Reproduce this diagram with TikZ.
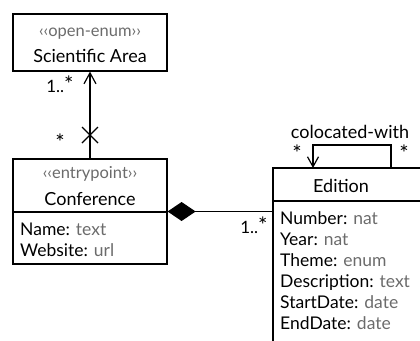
\documentclass[tikz,border=0pt]{standalone}
\usepackage{fontspec}
\setmainfont{Lato}
\usetikzlibrary{arrows.meta,calc}
\definecolor{typegray}{gray}{0.42}
\newcommand{\bigast}{\scalebox{1.3}{*}}
\begin{document}
\begin{tikzpicture}[x=1pt,y=-1pt,
  box/.style={draw,line width=1.2pt,rectangle,inner sep=0pt},
  conn/.style={line width=1.2pt},
  txt/.style={inner sep=0pt,anchor=base,font=\fontsize{18}{20}\selectfont},
  stereo/.style={inner sep=0pt,anchor=base,font=\fontsize{16.5}{18}\selectfont,text=typegray},
  attr/.style={inner sep=0pt,anchor=base west,font=\fontsize{17.5}{19}\selectfont},
  mult/.style={inner sep=0pt,anchor=base,font=\fontsize{17}{19}\selectfont}]
\useasboundingbox (0,0) rectangle (420,340);
\begin{scope}
\clip (0,0) rectangle (420,340);
% Scientific Area
\node[box,minimum width=154pt,minimum height=57pt] (sa) at (90,42.5) {};
\node[stereo] (sast) at (90,36) {‹‹open-enum››};
\node[txt] (saname) at (90,62) {Scientific Area};
% Conference
\node[box,minimum width=154pt,minimum height=105pt] (conf) at (90,211.5) {};
\node[stereo] (confst) at (90,178) {‹‹entrypoint››};
\node[txt] (confname) at (90,205) {Conference};
\coordinate (confsepl) at (13,212);
\coordinate (confsepr) at (167,212);
\draw[conn] (confsepl) -- (confsepr);
\node[attr] (cname) at (20,235) {Name: \textcolor{typegray}{text}};
\node[attr] (cweb) at (20,256) {Website: \textcolor{typegray}{url}};
% Edition
\node[box,minimum width=157pt,minimum height=190pt] (ed) at (351.5,263) {};
\node[txt] (edname) at (341,192) {Edition};
\coordinate (edsepl) at (273,201);
\coordinate (edsepr) at (430,201);
\draw[conn] (edsepl) -- (edsepr);
\node[attr] (e1) at (280,224) {Number: \textcolor{typegray}{nat}};
\node[attr] (e2) at (280,245) {Year: \textcolor{typegray}{nat}};
\node[attr] (e3) at (280,266) {Theme: \textcolor{typegray}{enum}};
\node[attr] (e4) at (280,287) {Description: \textcolor{typegray}{text}};
\node[attr] (e5) at (280,308) {StartDate: \textcolor{typegray}{date}};
\node[attr] (e6) at (280,329) {EndDate: \textcolor{typegray}{date}};
% association Conference -> Scientific Area
\draw[conn,-{Straight Barb[length=11pt,width=12pt,line width=1.2pt]}] (conf.north) -- (sa.south);
\coordinate (xc) at (90,135);
\draw[conn] ($(xc)+(-8,-8)$) -- ($(xc)+(8,8)$);
\draw[conn] ($(xc)+(-8,8)$) -- ($(xc)+(8,-8)$);
\node[mult] (m1) at (60,92) {1..\bigast};
\node[mult] (m2) at (60,150) {\bigast};
% composition
\draw[conn,{Diamond[length=28pt,width=19pt]}-] (conf.east) -- (conf.east -| ed.west);
\node[mult] (m3) at (254,233) {1..\bigast};
% self association
\coordinate (loopa) at (391,168);
\coordinate (loopb) at (313,168);
\draw[conn,-{Straight Barb[length=10pt,width=11pt,line width=1.2pt]}] (loopa) -- (391,145) -| (loopb);
\node[txt] (coloc) at (350,138) {colocated-with};
\node[mult] (m4) at (297,161) {\bigast};
\node[mult] (m5) at (404,161) {\bigast};
\end{scope}
\end{tikzpicture}
\end{document}
